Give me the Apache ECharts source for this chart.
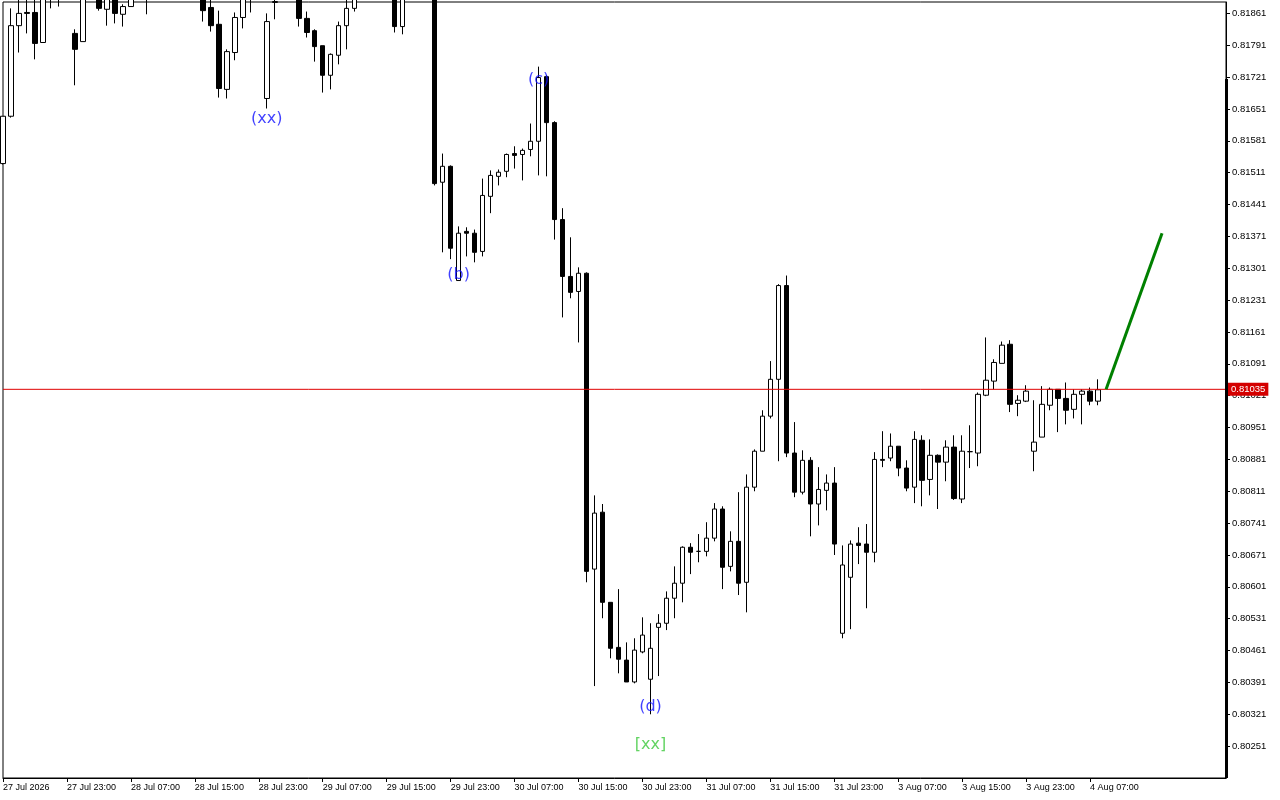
<!DOCTYPE html>
<html><head><meta charset="utf-8">
<script src="https://cdn.jsdelivr.net/npm/echarts@6/dist/echarts.min.js"></script>
<style>html,body{margin:0;padding:0;background:#fff}#c{width:1280px;height:800px}</style>
</head><body><div id="c"></div>
<script>
// H1 bars, first bar 27 Jul 2026 15:00
const opens=[0.81531,0.81635,0.81834,0.81863,0.81863,0.81797,0.81922,0.81935,0.81946,0.81817,
0.81799,0.81909,0.81924,0.81870,0.81902,0.81859,0.81876,0.81898,0.81913,0.81924,
0.81946,0.81968,0.81957,0.81935,0.81918,0.81909,0.81874,0.81837,0.81694,0.81775,
0.81852,0.81898,0.81913,0.81674,0.81885,0.81887,0.81913,0.81902,0.81850,0.81823,
0.81790,0.81725,0.81769,0.81834,0.81872,0.81898,0.81924,0.81946,0.81924,0.81909,
0.81832,0.81900,0.81918,0.81931,0.81909,0.81490,0.81525,0.81274,0.81382,0.81378,
0.81338,0.81459,0.81503,0.81514,0.81553,0.81551,0.81562,0.81580,0.81722,0.81621,
0.81408,0.81283,0.81250,0.81290,0.80640,0.80765,0.80567,0.80468,0.80440,0.80392,
0.80458,0.80398,0.80512,0.80521,0.80576,0.80609,0.80688,0.80679,0.80679,0.80708,
0.80772,0.80646,0.80701,0.80611,0.80820,0.80899,0.80976,0.81057,0.81263,0.80895,
0.80809,0.80879,0.80783,0.80813,0.80829,0.80499,0.80622,0.80697,0.80695,0.80677,
0.80881,0.80884,0.80910,0.80862,0.80820,0.80923,0.80837,0.80890,0.80875,0.80908,
0.80794,0.80898,0.80895,0.81022,0.81053,0.81092,0.81134,0.81004,0.81009,0.80899,
0.80930,0.81000,0.81035,0.81015,0.80991,0.81024,0.81031,0.81009];
const highs=[0.81635,0.81872,0.81896,0.81900,0.81900,0.81935,0.81957,0.81968,0.81979,0.81826,
0.81924,0.81946,0.81935,0.81913,0.81913,0.81881,0.81902,0.81935,0.81946,0.81957,
0.81979,0.81990,0.81979,0.81957,0.81935,0.81913,0.81898,0.81867,0.81782,0.81863,
0.81902,0.81924,0.81935,0.81861,0.81902,0.81924,0.81935,0.81913,0.81865,0.81826,
0.81790,0.81773,0.81843,0.81896,0.81902,0.81935,0.81957,0.81968,0.81946,0.81918,
0.81909,0.81935,0.81946,0.81953,0.81913,0.81553,0.81527,0.81393,0.81391,0.81386,
0.81498,0.81516,0.81518,0.81553,0.81569,0.81564,0.81619,0.81744,0.81725,0.81624,
0.81433,0.81369,0.81303,0.81292,0.80802,0.80783,0.80567,0.80596,0.80479,0.80488,
0.80534,0.80521,0.80541,0.80591,0.80646,0.80690,0.80697,0.80717,0.80743,0.80785,
0.80778,0.80723,0.80809,0.80848,0.80903,0.80989,0.81097,0.81266,0.81285,0.80963,
0.80901,0.80886,0.80864,0.80848,0.80864,0.80692,0.80703,0.80732,0.80739,0.80897,
0.80943,0.80938,0.80910,0.80879,0.80943,0.80934,0.80925,0.80892,0.80923,0.80934,
0.80934,0.80956,0.81028,0.81149,0.81101,0.81140,0.81143,0.81022,0.81044,0.81011,
0.81042,0.81039,0.81035,0.81050,0.81035,0.81035,0.81039,0.81057];
const lows=[0.81529,0.81632,0.81775,0.81817,0.81760,0.81797,0.81872,0.81876,0.81896,0.81703,
0.81799,0.81896,0.81867,0.81834,0.81839,0.81832,0.81876,0.81894,0.81859,0.81902,
0.81924,0.81935,0.81924,0.81909,0.81898,0.81843,0.81821,0.81676,0.81674,0.81758,
0.81828,0.81863,0.81896,0.81652,0.81848,0.81887,0.81898,0.81832,0.81808,0.81755,
0.81687,0.81694,0.81749,0.81782,0.81865,0.81896,0.81909,0.81913,0.81898,0.81819,
0.81815,0.81894,0.81900,0.81898,0.81483,0.81336,0.81321,0.81274,0.81327,0.81314,
0.81327,0.81422,0.81483,0.81501,0.81520,0.81494,0.81547,0.81505,0.81503,0.81364,
0.81193,0.81235,0.81138,0.80611,0.80383,0.80532,0.80444,0.80411,0.80392,0.80389,
0.80455,0.80321,0.80405,0.80506,0.80532,0.80567,0.80629,0.80655,0.80668,0.80701,
0.80596,0.80635,0.80583,0.80545,0.80811,0.80899,0.80971,0.80877,0.80886,0.80798,
0.80804,0.80712,0.80736,0.80769,0.80671,0.80488,0.80508,0.80651,0.80554,0.80655,
0.80864,0.80877,0.80844,0.80811,0.80785,0.80778,0.80802,0.80772,0.80833,0.80792,
0.80785,0.80862,0.80866,0.81020,0.81035,0.81092,0.80985,0.80976,0.81007,0.80855,
0.80930,0.80989,0.80941,0.80958,0.80971,0.80958,0.81000,0.81000];
const closes=[0.81635,0.81834,0.81861,0.81861,0.81795,0.81922,0.81935,0.81946,0.81902,0.81782,
0.81909,0.81924,0.81872,0.81902,0.81861,0.81876,0.81898,0.81913,0.81924,0.81946,
0.81968,0.81957,0.81935,0.81918,0.81909,0.81867,0.81834,0.81696,0.81777,0.81852,
0.81898,0.81913,0.81909,0.81843,0.81887,0.81913,0.81902,0.81850,0.81819,0.81788,
0.81725,0.81771,0.81834,0.81872,0.81898,0.81924,0.81946,0.81924,0.81909,0.81832,
0.81900,0.81918,0.81931,0.81909,0.81487,0.81525,0.81345,0.81378,0.81378,0.81336,
0.81461,0.81505,0.81512,0.81551,0.81549,0.81560,0.81580,0.81720,0.81621,0.81408,
0.81283,0.81248,0.81290,0.80635,0.80763,0.80567,0.80466,0.80442,0.80392,0.80462,
0.80495,0.80466,0.80521,0.80576,0.80609,0.80688,0.80677,0.80679,0.80708,0.80772,
0.80644,0.80701,0.80609,0.80820,0.80899,0.80976,0.81057,0.81263,0.80895,0.80809,
0.80879,0.80783,0.80815,0.80829,0.80695,0.80649,0.80695,0.80692,0.80677,0.80881,
0.80879,0.80910,0.80862,0.80818,0.80925,0.80835,0.80890,0.80875,0.80908,0.80795,
0.80899,0.80898,0.81024,0.81055,0.81094,0.81132,0.81002,0.81011,0.81031,0.80919,
0.81002,0.81035,0.81015,0.80989,0.81024,0.81031,0.81009,0.81034];

const tickLabels=['27 Jul 2026','27 Jul 23:00','28 Jul 07:00','28 Jul 15:00','28 Jul 23:00','29 Jul 07:00',
'29 Jul 15:00','29 Jul 23:00','30 Jul 07:00','30 Jul 15:00','30 Jul 23:00','31 Jul 07:00','31 Jul 15:00',
'31 Jul 23:00','3 Aug 07:00','3 Aug 15:00','3 Aug 23:00','4 Aug 07:00'];
const bidPrice=0.81035;
const forecastIdx=[138,145];
const forecastVal=[0.81035,0.81378];
const waveNames=['(xx)','(b)','(c)','(d)','[xx]'];
const waveIdx=[33,57,67,81,81];
const waveVal=[0.81635,0.81294,0.81722,0.80343,0.80260];
const waveColors=['#1010ff','#1010ff','#1010ff','#1010ff','#3cc83c'];

// hourly categories (weekdays only)
const categories=[];
(function(){
  const mon=['Jan','Feb','Mar','Apr','May','Jun','Jul','Aug','Sep','Oct','Nov','Dec'];
  let t=Date.UTC(2026,6,27,15);
  while(categories.length<154){
    const d=new Date(t);const wd=d.getUTCDay();
    if(wd!==0&&wd!==6){
      categories.push(d.getUTCDate()+' '+mon[d.getUTCMonth()]+' '+String(d.getUTCHours()).padStart(2,'0')+':00');
    }
    t+=3600000;
  }
})();

const candleData=opens.map((o,i)=>[o,closes[i],lows[i],highs[i]]);
const lineData=forecastIdx.map((x,i)=>[x,forecastVal[i]]);
const bidData=[[0,bidPrice],[categories.length-1,bidPrice]];
const waveData=waveIdx.map((x,i)=>({value:[x,waveVal[i]],label:{color:waveColors[i],formatter:waveNames[i]}}));

const chart=echarts.init(document.getElementById('c'));
const showTick=(idx)=>idx%8===0 && idx/8<tickLabels.length;
chart.setOption({
  animation:false,
  backgroundColor:'#ffffff',
  grid:{left:2,top:2,right:54,bottom:22,show:true,borderColor:'#000',borderWidth:1,backgroundColor:'#fff'},
  xAxis:{type:'category',data:categories,boundaryGap:false,
    axisLine:{show:true,onZero:false,lineStyle:{color:'#000',width:1}},
    axisTick:{show:true,interval:showTick,length:4,lineStyle:{color:'#000'}},
    axisLabel:{interval:showTick,align:'left',margin:5,color:'#000',fontSize:9,fontFamily:'Liberation Sans',
      formatter:(v,idx)=>tickLabels[Math.round(idx/8)]||''},
    axisPointer:{show:false},
    splitLine:{show:false}},
  yAxis:{type:'value',position:'right',min:0.80181,max:0.81886,interval:0.0007,scale:true,
    axisLine:{show:true,lineStyle:{color:'#000',width:1}},
    axisTick:{show:true,length:4,lineStyle:{color:'#000'}},
    axisLabel:{color:'#000',fontSize:9.5,fontFamily:'Liberation Sans',margin:6,showMinLabel:false,showMaxLabel:false,
      formatter:v=>v.toFixed(5)},
    axisPointer:{show:false},
    splitLine:{show:false}},
  tooltip:{show:false},
  graphic:[{type:'rect',shape:{x:1225,y:79,width:3,height:699},style:{fill:'#000'},z:100,silent:true}],
  series:[
    {type:'candlestick',data:candleData,barWidth:5,clip:true,
      itemStyle:{color:'#ffffff',color0:'#000000',borderColor:'#000000',borderColor0:'#000000',borderColorDoji:'#000000',borderWidth:1}},
    {type:'line',data:bidData,symbol:'none',silent:true,lineStyle:{color:'#e00000',width:1},z:4,
      endLabel:{show:true,distance:2,formatter:()=>bidPrice.toFixed(5),color:'#fff',backgroundColor:'#d40000',
        padding:[2,3,1,3],fontSize:9.5,fontFamily:'Liberation Sans'}},
    {type:'line',data:lineData,symbol:'none',silent:true,lineStyle:{color:'#008000',width:3},z:5},
    {type:'scatter',data:waveData,symbolSize:0,silent:true,
      label:{show:true,position:'inside',offset:[0,3],fontSize:16,fontFamily:'DejaVu Sans'},z:6}
  ]
});
</script></body></html>
